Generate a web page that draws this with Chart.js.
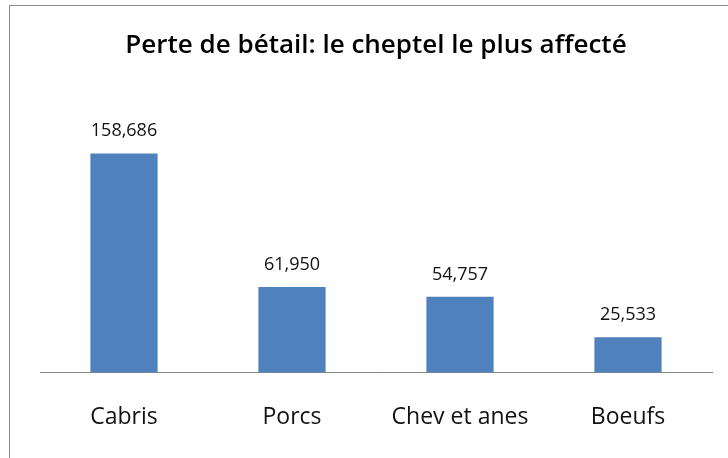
<!DOCTYPE html>
<html>
<head>
<meta charset="utf-8">
<script src="https://cdn.jsdelivr.net/npm/chart.js@4"></script>
<style>
  body { margin: 0; background: #fff; }
  #wrap { position: relative; width: 728px; height: 458px; }
  #frame { position: absolute; left: 9px; top: 5px; width: 740px; height: 470px;
           border-left: 1px solid #8c8c8c; border-top: 1px solid #8c8c8c; }
  canvas { position: absolute; left: 0; top: 0; }
</style>
</head>
<body>
<div id="wrap">
  <div id="frame"></div>
  <canvas id="myChart" width="728" height="458"></canvas>
</div>
<script>
// donnees du graphique
const categories = ["Cabris", "Porcs", "Chev et anes", "Boeufs"];
const valeurs = [158686, 61950, 54757, 25533];
const titre = "Perte de bétail: le cheptel le plus affecté";

// etiquettes au-dessus des barres
const etiquettes = {
  id: "etiquettes",
  afterDatasetsDraw(chart) {
    const ctx = chart.ctx;
    const meta = chart.getDatasetMeta(0);
    ctx.save();
    ctx.font = "18px 'Open Sans'";
    ctx.fillStyle = "#111";
    ctx.textAlign = "center";
    ctx.textBaseline = "alphabetic";
    meta.data.forEach(function (bar, i) {
      ctx.fillText(valeurs[i].toLocaleString("en-US"), bar.x, bar.y - 17);
    });
    ctx.restore();
  }
};

const config = {
  type: "bar",
  data: {
    labels: categories,
    datasets: [{
      data: valeurs,
      backgroundColor: "#4F81BD",
      barPercentage: 0.4,
      categoryPercentage: 1
    }]
  },
  options: {
    responsive: false,
    animation: false,
    layout: { padding: { left: 40, right: 16, top: 0, bottom: -4 } },
    plugins: {
      legend: { display: false },
      tooltip: { enabled: false },
      title: {
        display: true,
        text: titre,
        fullSize: false,
        color: "#000",
        font: { family: "Open Sans", size: 26, weight: "600" },
        padding: { top: 30.4, bottom: 34.9 }
      }
    },
    scales: {
      x: {
        grid: { display: false, drawTicks: false },
        border: { display: true, color: "#868686", width: 1 },
        ticks: { color: "#111", font: { family: "Open Sans", size: 23 }, padding: 31 }
      },
      y: {
        display: false,
        min: 0,
        max: 200000
      }
    }
  },
  plugins: [etiquettes]
};

const chart = new Chart(document.getElementById("myChart"), config);
</script>
</body>
</html>
